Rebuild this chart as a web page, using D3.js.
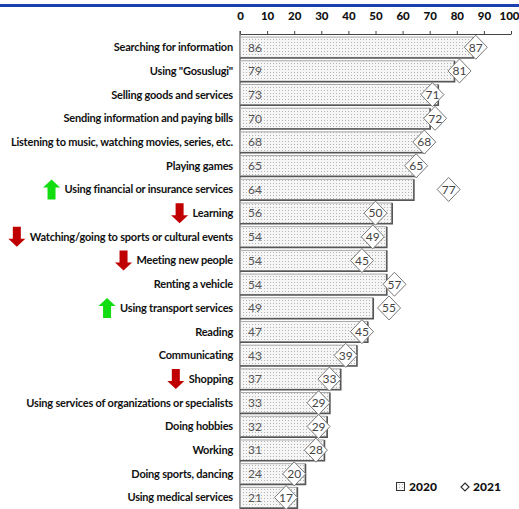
<!DOCTYPE html>
<html>
<head>
<meta charset="utf-8">
<script src="https://cdn.jsdelivr.net/npm/d3@7/dist/d3.min.js"></script>
<style>
  html, body { margin: 0; padding: 0; background: #fff; }
  svg { display: block; }
  text { font-family: Lato, "Open Sans", sans-serif; }
</style>
</head>
<body>
<svg id="chart" width="519" height="509"></svg>
<script>
const categories = [
  "Searching for information",
  "Using \"Gosuslugi\"",
  "Selling goods and services",
  "Sending information and paying bills",
  "Listening to music, watching movies, series, etc.",
  "Playing games",
  "Using financial or insurance services",
  "Learning",
  "Watching/going to sports or cultural events",
  "Meeting new people",
  "Renting a vehicle",
  "Using transport services",
  "Reading",
  "Communicating",
  "Shopping",
  "Using services of organizations or specialists",
  "Doing hobbies",
  "Working",
  "Doing sports, dancing",
  "Using medical services"
];
const values2020 = [86, 79, 73, 70, 68, 65, 64, 56, 54, 54, 54, 49, 47, 43, 37, 33, 32, 31, 24, 21];
const values2021 = [87, 81, 71, 72, 68, 65, 77, 50, 49, 45, 57, 55, 45, 39, 33, 29, 29, 28, 20, 17];
const trends = ["", "", "", "", "", "", "up", "down", "down", "down", "", "up", "", "", "down", "", "", "", "", ""];
const xTicks = [0, 10, 20, 30, 40, 50, 60, 70, 80, 90, 100];
const seriesNames = ["2020", "2021"];

const svg = d3.select("#chart");
const W = 519, H = 509;

const x = d3.scaleLinear().domain([0, 100]).range([240, 511]);
const y = d3.scaleBand().domain(categories).range([35.4, 509.4]).paddingInner(0.14).paddingOuter(0.07);

// stipple fill for the 2020 bars
const defs = svg.append("defs");
const pat = defs.append("pattern").attr("id", "dots")
  .attr("patternUnits", "userSpaceOnUse").attr("width", 3).attr("height", 3);
pat.append("rect").attr("width", 3).attr("height", 3).attr("fill", "#f6f6f6");
pat.append("rect").attr("x", 0).attr("y", 0).attr("width", 1).attr("height", 1).attr("fill", "#b4b4b4");

// blue rule across the top
svg.append("rect").attr("x", 0).attr("y", 4).attr("width", W).attr("height", 3).attr("fill", "#1c3fb0");

// top axis
const axis = svg.append("g").attr("transform", "translate(0,34)")
  .call(d3.axisTop(x).tickValues(xTicks).tickSize(3).tickSizeOuter(0).tickPadding(11));
axis.select(".domain").attr("stroke", "#444");
axis.selectAll(".tick line").attr("stroke", "#444");
axis.selectAll(".tick text").attr("font-family", "Lato, sans-serif").attr("font-weight", "900")
  .attr("font-size", 11.5).attr("fill", "#111")
  .attr("dx", d => d === 100 ? -2 : 0);

// vertical baseline
svg.append("line").attr("x1", x(0)).attr("x2", x(0)).attr("y1", 31).attr("y2", H)
  .attr("stroke", "#555").attr("stroke-width", 1.2);

const rows = categories.map((c, i) => ({ c, v20: values2020[i], v21: values2021[i], t: trends[i] }));

// 2020 bars
const bars = svg.append("g").selectAll("g").data(rows).join("g");
bars.append("rect")
  .attr("x", x(0) + 0.5).attr("y", d => y(d.c))
  .attr("width", d => x(d.v20) - x(0) - 0.5).attr("height", y.bandwidth())
  .attr("fill", "url(#dots)").attr("stroke", "#a8a8a8").attr("stroke-width", 1);
bars.append("path")
  .attr("d", d => `M${x(0)},${y(d.c) + y.bandwidth() + 0.5}H${x(d.v20) + 0.5}V${y(d.c)}`)
  .attr("fill", "none").attr("stroke", "#555").attr("stroke-width", 1.5);
bars.append("text")
  .attr("x", x(0) + 8).attr("y", d => y(d.c) + y.bandwidth() / 2)
  .attr("dy", "0.36em").attr("font-size", 12).attr("fill", "#555")
  .text(d => d.v20);

// 2021 diamonds
const dm = svg.append("g").selectAll("g").data(rows).join("g")
  .attr("transform", d => `translate(${x(d.v21)},${y(d.c) + y.bandwidth() / 2})`);
dm.append("path").attr("d", "M0,-12L11.5,0L0,12L-11.5,0Z")
  .attr("fill", "#fff").attr("stroke", "#777").attr("stroke-width", 1);
dm.append("text").attr("text-anchor", "middle").attr("dy", "0.36em")
  .attr("font-size", 12).attr("fill", "#444").text(d => d.v21);

// category labels
const labels = svg.append("g").selectAll("text").data(rows).join("text")
  .attr("x", 233).attr("y", d => y(d.c) + y.bandwidth() / 2).attr("dy", "0.35em")
  .attr("text-anchor", "end").attr("font-weight", "bold").attr("font-size", 11)
  .attr("letter-spacing", -0.2).attr("fill", "#111")
  .text(d => d.c);

// trend arrows
labels.each(function(d) {
  if (!d.t) return;
  const w = this.getComputedTextLength();
  const cx = 233 - w - 13;
  const cy = y(d.c) + y.bandwidth() / 2;
  const up = "M0,-10L8.5,-2L4,-2L4,10L-4,10L-4,-2L-8.5,-2Z";
  const down = "M0,10L8.5,2L4,2L4,-10L-4,-10L-4,2L-8.5,2Z";
  svg.append("path").attr("transform", `translate(${cx},${cy})`)
    .attr("d", d.t === "up" ? up : down)
    .attr("fill", d.t === "up" ? "#11dd11" : "#c00000");
});

// legend
const lg = svg.append("g").attr("transform", "translate(0,487)");
lg.append("rect").attr("x", 396.5).attr("y", -4.5).attr("width", 8).attr("height", 8)
  .attr("fill", "url(#dots)").attr("stroke", "#333").attr("stroke-width", 1);
lg.append("text").attr("x", 409).attr("y", 0).attr("dy", "0.35em")
  .attr("font-weight", "900").attr("font-size", 12).attr("fill", "#111").text(seriesNames[0]);
lg.append("path").attr("transform", "translate(465,0)").attr("d", "M0,-4L4,0L0,4L-4,0Z")
  .attr("fill", "#fff").attr("stroke", "#333").attr("stroke-width", 1.2);
lg.append("text").attr("x", 473).attr("y", 0).attr("dy", "0.35em")
  .attr("font-weight", "900").attr("font-size", 12).attr("fill", "#111").text(seriesNames[1]);
</script>
</body>
</html>
